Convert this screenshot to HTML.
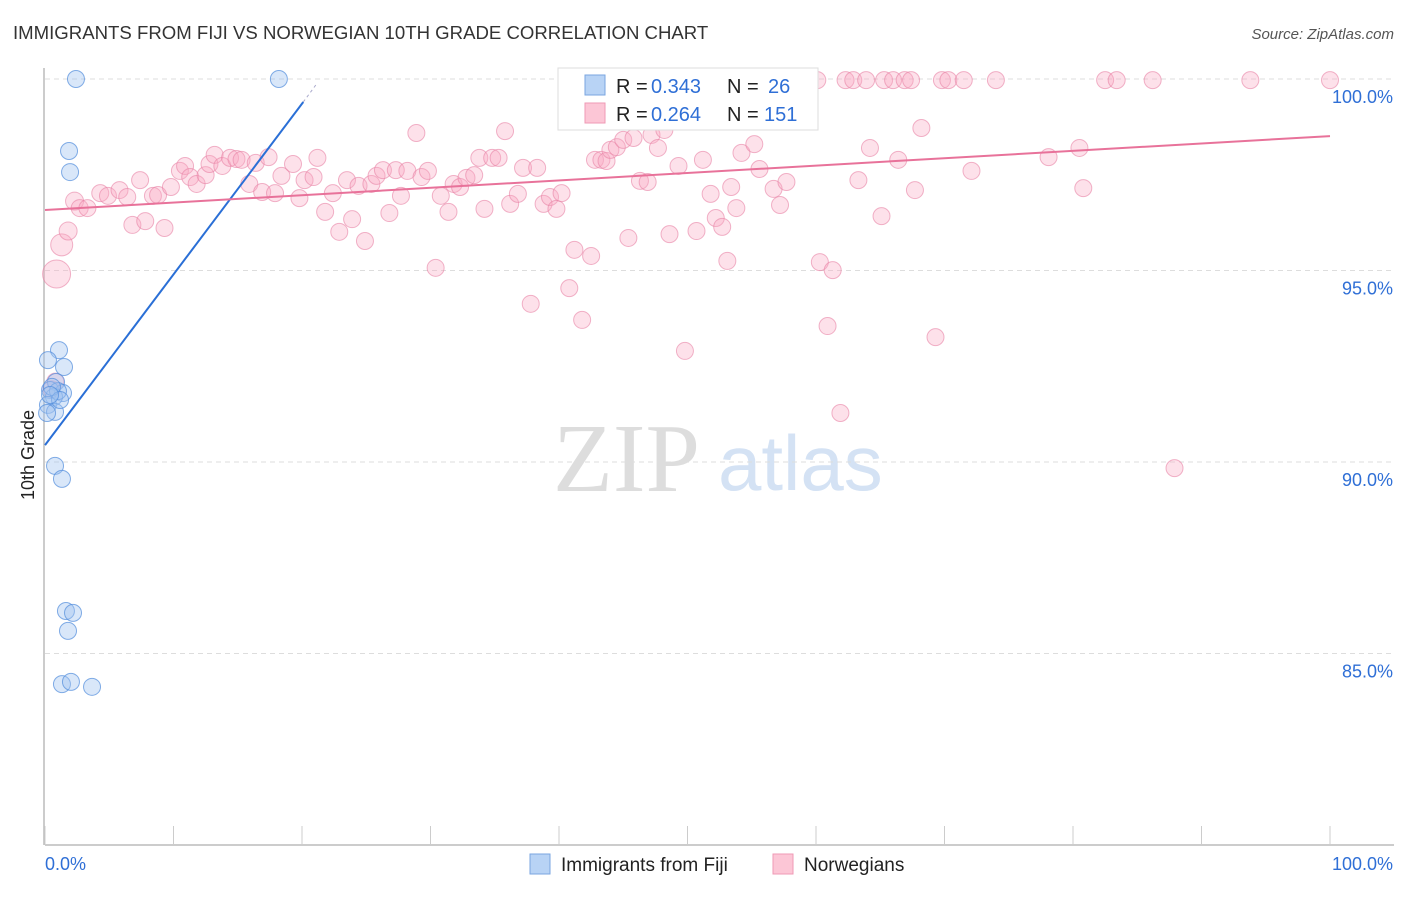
<!DOCTYPE html>
<html><head><meta charset="utf-8"><style>
body{margin:0;background:#fff;font-family:"Liberation Sans",sans-serif;}
</style></head><body>
<svg id="chart" width="1406" height="892" xmlns="http://www.w3.org/2000/svg" style="font-family:'Liberation Sans',sans-serif">
<text x="13" y="39" font-size="18.6" fill="#333">IMMIGRANTS FROM FIJI VS NORWEGIAN 10TH GRADE CORRELATION CHART</text>
<text x="1394" y="39" font-size="15" fill="#555" text-anchor="end" font-style="italic">Source: ZipAtlas.com</text>
<text x="553" y="491" font-size="98" fill="#ddd" style="font-family:'Liberation Serif',serif">ZIP</text>
<text x="718" y="490" font-size="78" fill="#d4e2f4">atlas</text>
<g id="grid"></g>
<g id="axes"></g>
<g id="pink"></g>
<g id="blue"></g>
<g id="lines"></g>
<text transform="translate(34,455) rotate(-90)" font-size="18" fill="#222" text-anchor="middle">10th Grade</text>
<g>
<rect x="558" y="68" width="260" height="62" fill="#fff" stroke="#ddd"/>
<rect x="585" y="75" width="20" height="20" fill="#b8d3f5" stroke="#7aa6e0"/>
<rect x="585" y="103" width="20" height="20" fill="#fcc6d6" stroke="#ef9ab5"/>
<text y="93" font-size="20" fill="#222"><tspan x="616">R =</tspan><tspan x="651" fill="#2f6fd6">0.343</tspan><tspan x="727">N =</tspan><tspan x="768" fill="#2f6fd6">26</tspan></text>
<text y="121" font-size="20" fill="#222"><tspan x="616">R =</tspan><tspan x="651" fill="#2f6fd6">0.264</tspan><tspan x="727">N =</tspan><tspan x="764" fill="#2f6fd6">151</tspan></text>
</g>
<g>
<rect x="530" y="854" width="20" height="20" fill="#b8d3f5" stroke="#7aa6e0"/>
<text x="561" y="871" font-size="19" fill="#222">Immigrants from Fiji</text>
<rect x="773" y="854" width="20" height="20" fill="#fcc6d6" stroke="#ef9ab5"/>
<text x="804" y="871" font-size="19" fill="#222">Norwegians</text>
</g>
</svg>
<script>
const yTicks=[100,95,90,85];
const yTickLabels=["100.0%","95.0%","90.0%","85.0%"];
const xTicks=[0,10,20,30,40,50,60,70,80,90,100];
const xEndLabels=["0.0%","100.0%"];
const blueX=[2.41,18.2,1.87,1.95,1.09,0.23,1.48,0.86,0.39,1.40,0.70,1.01,0.23,0.78,0.16,0.78,1.32,1.63,2.18,1.79,1.32,2.02,3.66,0.54,1.17,0.39];
const blueY=[100,100,98.12,97.57,92.92,92.66,92.48,92.09,91.88,91.80,91.70,91.85,91.49,91.31,91.28,89.90,89.56,86.11,86.06,85.59,84.20,84.26,84.13,91.96,91.62,91.75];
const pinkX=[0.9,1.3,1.8,2.3,2.7,3.3,4.3,4.9,5.8,6.4,7.4,6.8,7.8,8.4,8.8,9.3,9.8,10.5,10.9,11.3,11.8,12.5,12.8,13.2,13.8,14.4,14.9,15.3,15.9,16.4,16.9,17.4,17.9,18.4,19.3,19.8,20.2,20.9,21.2,21.8,22.4,22.9,23.5,23.9,24.4,24.9,25.4,25.8,26.3,26.8,27.3,27.7,28.2,28.9,29.3,29.8,30.4,30.8,31.4,31.8,32.3,32.8,33.4,33.8,34.2,34.8,35.3,35.8,36.2,36.8,37.2,37.8,38.3,38.8,39.3,39.8,40.2,40.8,41.2,41.8,42.5,42.8,43.3,43.7,44.0,44.5,45.0,45.4,45.8,46.3,46.9,47.2,47.7,48.2,48.6,49.3,49.8,50.2,50.7,51.2,51.8,52.2,52.7,53.1,53.4,53.8,54.2,54.7,55.2,55.6,56.0,56.7,57.2,57.7,58.6,60.1,60.3,60.9,61.3,61.9,62.3,62.9,63.3,63.9,64.2,65.1,65.3,66.0,66.4,66.9,67.4,67.7,68.2,69.3,69.8,70.3,71.5,72.1,74.0,78.1,80.5,80.8,82.5,83.4,86.2,87.9,93.8,100,0.5,0.8];
const pinkY=[94.91,95.67,96.03,96.81,96.63,96.63,97.02,96.95,97.10,96.92,97.36,96.19,96.29,96.95,96.97,96.11,97.18,97.60,97.73,97.44,97.26,97.49,97.78,98.02,97.73,97.94,97.91,97.89,97.26,97.81,97.05,97.96,97.02,97.47,97.78,96.89,97.36,97.44,97.94,96.53,97.02,96.01,97.36,96.34,97.21,95.77,97.26,97.47,97.62,96.50,97.62,96.95,97.60,98.59,97.44,97.60,95.07,96.95,96.53,97.26,97.18,97.42,97.49,97.94,96.61,97.94,97.94,98.64,96.74,97.00,97.68,94.13,97.68,96.74,96.92,96.61,97.02,94.54,95.54,93.71,95.38,97.89,97.89,97.86,98.15,98.22,98.41,95.85,98.46,97.34,97.31,98.54,98.20,98.67,95.95,97.73,92.90,99.97,96.03,97.89,97.00,96.37,96.14,95.25,97.18,96.63,98.07,99.97,98.30,97.65,99.11,97.13,96.71,97.31,99.03,99.97,95.22,93.55,95.01,91.28,99.97,99.97,97.36,99.97,98.20,96.42,99.97,99.97,97.89,99.97,99.97,97.10,98.72,93.26,99.97,99.97,99.97,97.60,99.97,97.96,98.20,97.15,99.97,99.97,99.97,89.84,99.97,99.97,91.9,92.1];
const blueLine=[[0,90.44],[20.1,99.4]];
const blueDash=[[20.1,99.4],[21.2,99.9]];
const pinkLine=[[0,96.58],[100,98.51]];
const sx=v=>45+v*12.85;
const sy=v=>79+(100-v)*38.3;
const NS="http://www.w3.org/2000/svg";
function mk(tag,attrs,parent){const e=document.createElementNS(NS,tag);for(const k in attrs)e.setAttribute(k,attrs[k]);document.getElementById(parent).appendChild(e);return e;}
yTicks.forEach((t,i)=>{
 const l=mk('line',{x1:45,x2:1394,y1:sy(t),y2:sy(t),stroke:'#ddd','stroke-dasharray':'5,4'},'grid');
 
 
 const tx=mk('text',{x:1393,y:sy(t)+24,'font-size':18,fill:'#2f6fd6','text-anchor':'end'},'grid');
 tx.textContent=yTickLabels[i];
 
 
});
const ax=mk('line',{x1:45,x2:1394,y1:845,y2:845,stroke:'#bbb','stroke-width':1.5},'axes');


const ay=mk('line',{x1:44,x2:44,y1:68,y2:845,stroke:'#bbb','stroke-width':1.5},'axes');


xTicks.forEach(t=>{
 const l=mk('line',{x1:sx(t),x2:sx(t),y1:826,y2:845,stroke:'#ccc'},'axes');
 
 
});
const xl0=mk('text',{x:45,y:870,'font-size':18,fill:'#2f6fd6'},'axes');
xl0.textContent=xEndLabels[0];


const xl1=mk('text',{x:1393,y:870,'font-size':18,fill:'#2f6fd6','text-anchor':'end'},'axes');
xl1.textContent=xEndLabels[1];


pinkX.forEach((x,i)=>{
 const r=i===0?14:(i===1?11:(i<4?9:8.5));
 const c=mk('circle',{cx:sx(x),cy:sy(pinkY[i]),r:r,fill:'rgba(248,170,196,0.35)',stroke:'rgba(232,130,165,0.6)','stroke-width':1},'pink');
 
 
});
blueX.forEach((x,i)=>{
 const c=mk('circle',{cx:sx(x),cy:sy(blueY[i]),r:8.5,fill:'rgba(160,195,240,0.4)',stroke:'rgba(80,140,220,0.7)','stroke-width':1},'blue');
 
 
});
const bl=mk('line',{x1:sx(blueLine[0][0]),y1:sy(blueLine[0][1]),x2:sx(blueLine[1][0]),y2:sy(blueLine[1][1]),stroke:'#2a6fd6','stroke-width':2},'lines');


const bd=mk('line',{x1:sx(blueDash[0][0]),y1:sy(blueDash[0][1]),x2:sx(blueDash[1][0]),y2:sy(blueDash[1][1]),stroke:'#aac','stroke-width':1,'stroke-dasharray':'3,3'},'lines');


const pl=mk('line',{x1:sx(pinkLine[0][0]),y1:sy(pinkLine[0][1]),x2:sx(pinkLine[1][0]),y2:sy(pinkLine[1][1]),stroke:'#e8729a','stroke-width':2},'lines');


</script>
</body></html>
